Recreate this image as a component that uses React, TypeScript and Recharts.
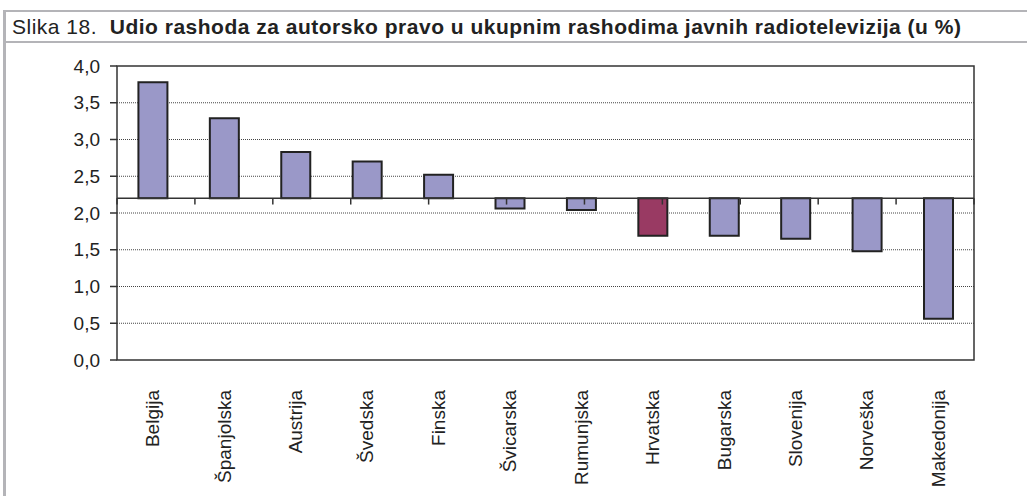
import { BarChart, Bar, XAxis, YAxis, CartesianGrid, ReferenceLine, ReferenceArea, Cell } from "recharts";

const countries = [
  "Belgija",
  "Španjolska",
  "Austrija",
  "Švedska",
  "Finska",
  "Švicarska",
  "Rumunjska",
  "Hrvatska",
  "Bugarska",
  "Slovenija",
  "Norveška",
  "Makedonija",
];
const shares = [3.78, 3.29, 2.83, 2.7, 2.52, 2.06, 2.04, 1.69, 1.69, 1.65, 1.48, 0.56];
const yTicks = [0, 0.5, 1, 1.5, 2, 2.5, 3, 3.5, 4];
const highlight = "Hrvatska";
const BASE = 2.2; // where the category axis crosses

const data = countries.map((name, i) => ({
  name,
  value: shares[i],
  range: [Math.min(BASE, shares[i]), Math.max(BASE, shares[i])],
}));

const boundaries = countries.map((_, i) => i).concat(countries.length);

const font = "'Liberation Sans', Arial, sans-serif";

const CategoryTick = ({ x, y, payload }: any) => (
  <text
    x={x}
    y={y}
    transform={`rotate(-90, ${x}, ${y})`}
    textAnchor="end"
    dominantBaseline="central"
    fontSize={19}
    fontFamily={font}
    fill="#222"
  >
    {payload.value}
  </text>
);

export default function App() {
  return (
    <div style={{ position: "absolute", left: 0, top: 0, width: 1027, height: 496, background: "#fff" }}>
      <div
        style={{
          position: "absolute",
          left: 3,
          top: 10,
          width: 3,
          height: 486,
          background: "#b4b4b8",
        }}
      />
      <div
        style={{
          position: "absolute",
          left: 3,
          top: 10,
          width: 1024,
          height: 29,
          borderTop: "2px solid #b4b4b8",
          borderBottom: "2px solid #b4b4b8",
          fontFamily: font,
          fontSize: 21,
          letterSpacing: 0.5,
          color: "#222",
          lineHeight: "30px",
          paddingLeft: 9,
          boxSizing: "content-box",
          whiteSpace: "nowrap",
        }}
      >
        Slika 18.&nbsp; <b>Udio rashoda za autorsko pravo u ukupnim rashodima javnih radiotelevizija (u %)</b>
      </div>
      <div style={{ position: "absolute", left: 0, top: 44 }}>
        <BarChart
          width={1027}
          height={452}
          data={data}
          margin={{ top: 22, right: 53, bottom: 0, left: 0 }}
          barCategoryGap="30%"
        >
          <CartesianGrid
            horizontal
            vertical={false}
            stroke="#444"
            strokeDasharray="1 1"
            horizontalValues={yTicks.slice(1, -1)}
          />
          <XAxis
            dataKey="name"
            interval={0}
            axisLine={false}
            tickLine={false}
            height={136}
            tick={<CategoryTick />}
            tickMargin={24}
          />
          <XAxis xAxisId="grid" type="number" domain={[0, countries.length]} hide />
          <YAxis
            width={117}
            domain={[0, 4]}
            ticks={yTicks}
            interval={0}
            axisLine={false}
            tickSize={7}
            tickMargin={10}
            tickLine={{ stroke: "#333", strokeWidth: 1.5 }}
            tick={{ fontSize: 19, fontFamily: font, fill: "#222" }}
            tickFormatter={(v: number) => v.toFixed(1).replace(".", ",")}
          />
          <ReferenceArea y1={0} y2={4} fill="none" stroke="#333" strokeWidth={1.5} ifOverflow="visible" />
          <Bar dataKey="range" stroke="#222" strokeWidth={2} isAnimationActive={false}>
            {data.map((d) => (
              <Cell key={d.name} fill={d.name === highlight ? "#993a63" : "#9a98c8"} />
            ))}
          </Bar>
          <ReferenceLine y={BASE} stroke="#333" strokeWidth={1.5} />
          {boundaries.map((k) => (
            <ReferenceLine
              key={k}
              xAxisId="grid"
              segment={[
                { x: k, y: BASE },
                { x: k, y: BASE - 0.085 },
              ]}
              stroke="#333"
              strokeWidth={1.5}
            />
          ))}
        </BarChart>
      </div>
    </div>
  );
}
